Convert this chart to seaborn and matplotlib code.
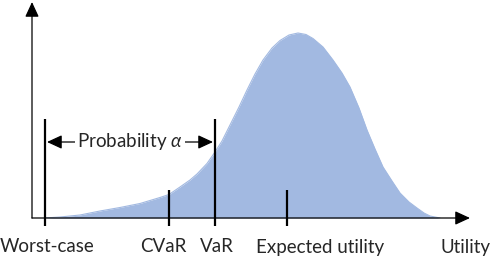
import numpy as np
import pandas as pd
import seaborn as sns
import matplotlib.pyplot as plt

# utility distribution
utility = [13, 28, 48, 68, 88, 108, 128, 137, 148, 158, 165, 175, 183, 190, 198,
           207, 215, 223, 231, 240, 248, 257, 266, 274, 281, 291, 301, 310,
           318, 327, 335, 343, 351, 360, 368, 377, 385, 392, 398, 408]
density = [0, 1, 3, 7, 10.5, 14.5, 20.5, 23.5, 31, 38, 44, 54.5, 66, 77, 93,
           111, 128, 144, 158, 170, 177.5, 183, 185, 183.5, 179.5, 171, 158, 145,
           131, 110, 88, 69, 51, 37, 25, 16, 10, 5, 2, 0]

marks = ['Worst-case', 'CVaR', 'VaR', 'Expected utility']
mark_pos = [13, 137, 183, 255]
mark_top = [99, 28, 99, 28]
label_pos = [15, 131, 185, 288]

df = pd.DataFrame({'utility': utility, 'density': density})

sns.set_theme(style='white')
plt.rcParams['font.family'] = ['Lato', 'DejaVu Sans']
plt.rcParams['mathtext.fontset'] = 'custom'
plt.rcParams['mathtext.it'] = 'Lato:italic'

fig = plt.figure(figsize=(4.9, 2.6), dpi=100)
ax = fig.add_axes([32/490, 42/260, 438/490, 216/260])
ax.set_xlim(0, 438)
ax.set_ylim(0, 216)

fill = '#a2b9e1'
ax.fill_between(df.utility, df.density, color=fill, lw=0)
sns.lineplot(data=df, x='utility', y='density', color=fill, lw=0.8, ax=ax)
ax.axis('off')

head = '-|>,head_length=0.65,head_width=0.3'
# axes with arrows
ax.annotate('', xy=(438, 0), xytext=(0, 0), annotation_clip=False,
            arrowprops=dict(arrowstyle=head, color='black', lw=0.9,
                            mutation_scale=14, shrinkA=0, shrinkB=0))
ax.annotate('', xy=(0, 216), xytext=(0, 0), annotation_clip=False,
            arrowprops=dict(arrowstyle=head, color='black', lw=0.9,
                            mutation_scale=14, shrinkA=0, shrinkB=0))

for x, top in zip(mark_pos, mark_top):
    ax.plot([x, x], [-8, top], color='black', lw=1.6, clip_on=False,
            solid_capstyle='butt')
for name, x in zip(marks, label_pos):
    ax.text(x, -29, name, ha='center', va='center', fontsize=13.5)
ax.text(434, -29, 'Utility', ha='center', va='center', fontsize=13.5)

# probability alpha between worst case and VaR
ax.annotate('', xy=(mark_pos[2] - 2, 76), xytext=(mark_pos[0] + 2, 76),
            arrowprops=dict(arrowstyle='<|-|>,head_length=0.65,head_width=0.3',
                            color='black', lw=0.9,
                            mutation_scale=14, shrinkA=0, shrinkB=0))
ax.text((mark_pos[0] + mark_pos[2]) / 2, 76, r'Probability $\alpha$',
        ha='center', va='center', fontsize=13.5,
        bbox=dict(facecolor='white', edgecolor='none', pad=1.5))

fig.savefig('out.png', dpi=100)
